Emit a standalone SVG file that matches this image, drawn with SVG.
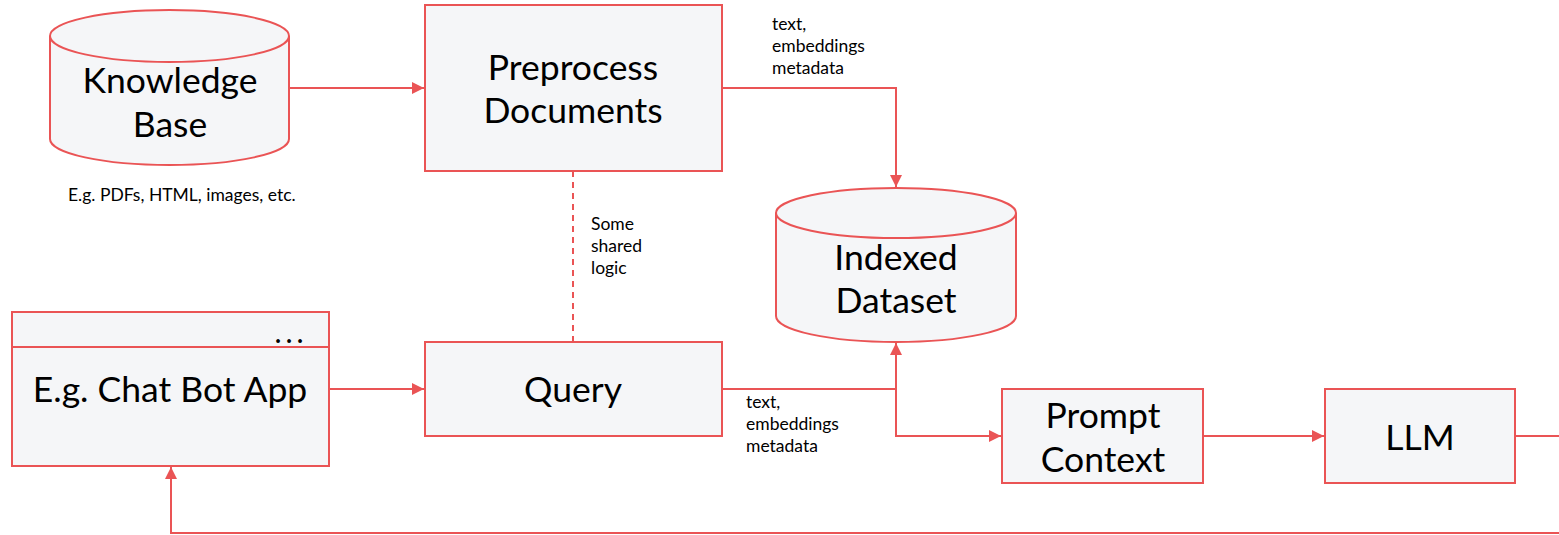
<svg xmlns="http://www.w3.org/2000/svg" width="1559" height="535" viewBox="0 0 1559 535">
<defs>
<style>
.n{fill:#f5f6f8;stroke:#ea5455;stroke-width:2}
.c{fill:none;stroke:#ea5455;stroke-width:2}
.t{font-family:Lato,"Liberation Sans",sans-serif;fill:#000;text-anchor:middle;font-size:35.5px}
.s{font-family:Lato,"Liberation Sans",sans-serif;fill:#000;font-size:17.5px}
</style>
<marker id="a" viewBox="0 0 10 10" refX="10" refY="5" markerWidth="12" markerHeight="12" markerUnits="userSpaceOnUse" orient="auto">
<path d="M0,0 L10,5 L0,10 z" fill="#ea5455"/>
</marker>
</defs>
<rect width="1559" height="535" fill="#fff"/>
<g id="connectors">
<line class="c" x1="289" y1="88" x2="424" y2="88" marker-end="url(#a)"/>
<polyline class="c" points="722,88 896,88 896,187" marker-end="url(#a)"/>
<line class="c" x1="573" y1="171" x2="573" y2="342" stroke-dasharray="6,5"/>
<line class="c" x1="329" y1="389" x2="424" y2="389" marker-end="url(#a)"/>
<polyline class="c" points="722,389 896,389 896,343" marker-end="url(#a)"/>
<polyline class="c" points="896,389 896,436 1001,436" marker-end="url(#a)"/>
<line class="c" x1="1203" y1="436" x2="1324" y2="436" marker-end="url(#a)"/>
<line class="c" x1="1515" y1="436" x2="1559" y2="436"/>
<polyline class="c" points="1559,533 171,533 171,467" marker-end="url(#a)"/>
<text class="s" x="772" y="30">text,</text>
<text class="s" x="772" y="52">embeddings</text>
<text class="s" x="772" y="74">metadata</text>
<text class="s" x="591" y="230">Some</text>
<text class="s" x="591" y="252">shared</text>
<text class="s" x="591" y="274">logic</text>
<text class="s" x="746" y="408">text,</text>
<text class="s" x="746" y="430">embeddings</text>
<text class="s" x="746" y="452">metadata</text>
</g>
<g id="knowledge-base">
<path class="n" d="M50,36 L50,139 A119.5,26 0 0 0 289,139 L289,36 A119.5,26 0 0 0 50,36 Z"/>
<path class="c" d="M50,36 A119.5,26 0 0 0 289,36"/>
<text class="t" x="170" y="93">Knowledge</text>
<text class="t" x="170" y="137">Base</text>
<text class="s" x="68" y="201">E.g. PDFs, HTML, images, etc.</text>
</g>
<g id="preprocess">
<rect class="n" x="425" y="5" width="297" height="166"/>
<text class="t" x="573" y="80">Preprocess</text>
<text class="t" x="573" y="123">Documents</text>
</g>
<g id="indexed-dataset">
<path class="n" d="M776,213 L776,316 A120,26 0 0 0 1016,316 L1016,213 A120,25 0 0 0 776,213 Z"/>
<path class="c" d="M776,213 A120,25 0 0 0 1016,213"/>
<text class="t" x="896" y="270">Indexed</text>
<text class="t" x="896" y="313">Dataset</text>
</g>
<g id="chat-bot-app">
<rect class="n" x="12" y="312" width="317" height="154"/>
<line class="c" x1="12" y1="347" x2="329" y2="347"/>
<text class="t" x="291" y="343" style="font-size:30px;letter-spacing:4px">...</text>
<text class="t" x="170" y="402">E.g. Chat Bot App</text>
</g>
<g id="query">
<rect class="n" x="425" y="342" width="297" height="94"/>
<text class="t" x="573" y="402">Query</text>
</g>
<g id="prompt-context">
<rect class="n" x="1002" y="389" width="201" height="94"/>
<text class="t" x="1103" y="428">Prompt</text>
<text class="t" x="1103" y="472">Context</text>
</g>
<g id="llm">
<rect class="n" x="1325" y="389" width="190" height="94"/>
<text class="t" x="1420" y="450">LLM</text>
</g>
</svg>
